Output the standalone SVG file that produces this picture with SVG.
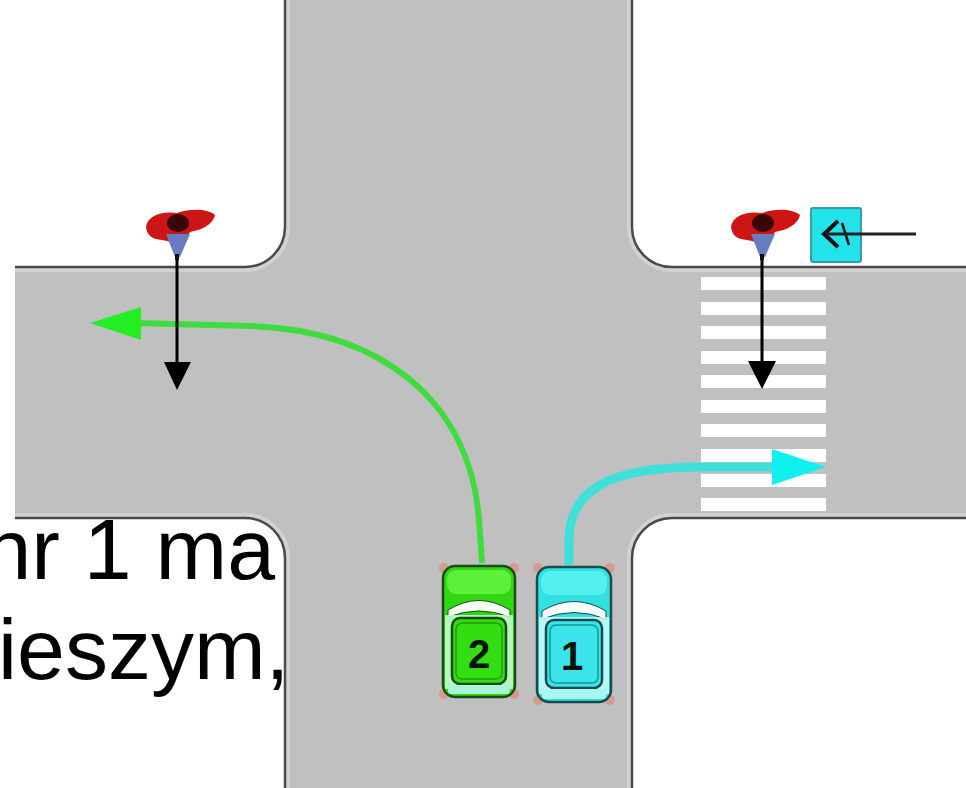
<svg xmlns="http://www.w3.org/2000/svg" width="966" height="788" viewBox="0 0 966 788">
  <defs>
    <style>
      .txt { font-family: "Liberation Sans", Arial, sans-serif; font-size: 86px; fill: #000; }
      .edge { fill: none; stroke: #4a4a4a; stroke-width: 2.5; }
      .edgeglow { fill: none; stroke: #d2d2d2; stroke-width: 10; }
      .stripe { fill: #ffffff; }
      .walk { stroke: #000; stroke-width: 3; fill: none; }
      .num { font-family: "Liberation Sans", Arial, sans-serif; font-weight: bold; font-size: 40px; fill: #061206; text-anchor: middle; }
      .lamp { fill: #ff5533; opacity: 0.35; }
    </style>
    <clipPath id="roadClip">
      <path d="M285,0 L632,0 L632,227 A40,40 0 0 0 672,267 L966,267 L966,518 L672,518 A40,40 0 0 0 632,558 L632,788 L285,788 L285,558 A40,40 0 0 0 245,518 L15,518 L15,267 L245,267 A40,40 0 0 0 285,227 Z"/>
    </clipPath>
  </defs>

  <rect x="0" y="0" width="966" height="788" fill="#ffffff"/>

  <!-- text partly hidden under the road -->
  <g id="caption">
    <text class="txt" x="275" y="579" text-anchor="end">nr 1 ma</text>
    <text class="txt" x="-2" y="679">ieszym,</text>
  </g>

  <!-- road -->
  <g id="road">
    <path d="M285,0 L632,0 L632,227 A40,40 0 0 0 672,267 L966,267 L966,518 L672,518 A40,40 0 0 0 632,558 L632,788 L285,788 L285,558 A40,40 0 0 0 245,518 L15,518 L15,267 L245,267 A40,40 0 0 0 285,227 Z" fill="#c0c0c0"/>
    <g clip-path="url(#roadClip)">
      <path class="edgeglow" d="M285,0 L285,227 A40,40 0 0 1 245,267 L15,267"/>
      <path class="edgeglow" d="M632,0 L632,227 A40,40 0 0 0 672,267 L966,267"/>
      <path class="edgeglow" d="M15,518 L245,518 A40,40 0 0 1 285,558 L285,788"/>
      <path class="edgeglow" d="M966,518 L672,518 A40,40 0 0 0 632,558 L632,788"/>
    </g>
    <path class="edge" d="M285,0 L285,227 A40,40 0 0 1 245,267 L15,267"/>
    <path class="edge" d="M632,0 L632,227 A40,40 0 0 0 672,267 L966,267"/>
    <path class="edge" d="M15,518 L245,518 A40,40 0 0 1 285,558 L285,788"/>
    <path class="edge" d="M966,518 L672,518 A40,40 0 0 0 632,558 L632,788"/>
  </g>

  <!-- zebra crossing -->
  <g id="crossing">
    <rect class="stripe" x="701" y="277" width="125" height="13"/>
    <rect class="stripe" x="701" y="302" width="125" height="13"/>
    <rect class="stripe" x="701" y="326" width="125" height="13"/>
    <rect class="stripe" x="701" y="351" width="125" height="13"/>
    <rect class="stripe" x="701" y="375" width="125" height="13"/>
    <rect class="stripe" x="701" y="400" width="125" height="13"/>
    <rect class="stripe" x="701" y="424" width="125" height="13"/>
    <rect class="stripe" x="701" y="449" width="125" height="13"/>
    <rect class="stripe" x="701" y="474" width="125" height="13"/>
    <rect class="stripe" x="701" y="498" width="125" height="13"/>
  </g>

  <!-- connectors / paths -->
  <g id="connectors">
    <path d="M482,563 L479,520 C470,400 380,330 250,326 L135,323" fill="none" stroke="#3fdc3f" stroke-width="6"/>
    <polygon points="90,323 141,307 141,340" fill="#22ee22"/>
    <path d="M569,565 L569,540 C569,490 610,467 700,467 L776,467" fill="none" stroke="#40e0d8" stroke-width="9"/>
    <polygon points="826,467 772,449 772,485" fill="#10f0f0"/>
    <line class="walk" x1="177" y1="258" x2="177" y2="372"/>
    <polygon points="164,362 191,362 177,390" fill="#000"/>
    <line class="walk" x1="762" y1="258" x2="762" y2="372"/>
    <polygon points="748,361 776,361 762,389" fill="#000"/>
  </g>

  <!-- pedestrian left -->
  <g id="pedestrian-left">
    <path d="M146,227 C148,214 165,211 177,213 C190,209 206,208 215,215 C213,225 201,230 190,232 L183,242 L170,242 C160,238 148,242 146,227 Z" fill="#cc1515"/>
    <ellipse cx="178" cy="223" rx="11" ry="9" fill="#3a0505"/>
    <path d="M166,234 L190,234 L180,257 L175,257 Z" fill="#6a7cc0"/>
    <rect x="175" y="254" width="4" height="6" fill="#111"/>
  </g>

  <!-- pedestrian right -->
  <g id="pedestrian-right">
    <path d="M731,227 C733,214 750,211 762,213 C775,209 791,208 800,215 C798,225 786,230 775,232 L768,242 L755,242 C745,238 733,242 731,227 Z" fill="#cc1515"/>
    <ellipse cx="763" cy="223" rx="11" ry="9" fill="#3a0505"/>
    <path d="M751,234 L775,234 L765,257 L760,257 Z" fill="#6a7cc0"/>
    <rect x="760" y="254" width="4" height="6" fill="#111"/>
  </g>

  <!-- sign -->
  <g id="sign">
    <rect x="811" y="208" width="50" height="54" rx="2" fill="#22e2ea" stroke="#3a9aa0" stroke-width="2"/>
    <path d="M838,221 L824,234 L838,247" fill="none" stroke="#111" stroke-width="4"/>
    <path d="M842,223 L849,245" fill="none" stroke="#111" stroke-width="2.5"/>
    <line x1="826" y1="234" x2="916" y2="234" stroke="#222" stroke-width="3"/>
  </g>

  <!-- car 2 (green) -->
  <g id="car-2" transform="translate(441,565)">
    <circle class="lamp" cx="3" cy="3" r="5"/>
    <circle class="lamp" cx="73" cy="3" r="5"/>
    <circle class="lamp" cx="3" cy="129" r="5"/>
    <circle class="lamp" cx="73" cy="129" r="5"/>
    <rect x="2" y="1" width="72" height="131" rx="12" fill="#2fd810" stroke="#1b4a1b" stroke-width="2.5"/>
    <rect x="6" y="5" width="64" height="24" rx="9" fill="#5cf03a"/>
    <path d="M7,45 Q38,26 69,45 L69,52 Q38,40 7,52 Z" fill="#f2fff2" stroke="#1b4a1b" stroke-width="1"/>
    <rect x="4" y="50" width="68" height="74" fill="#d8ffe8" opacity="0.8"/>
    <rect x="11" y="53" width="54" height="66" rx="8" fill="#33dd11" stroke="#1b4a1b" stroke-width="2.5"/>
    <rect x="15" y="58" width="46" height="56" rx="6" fill="none" stroke="#229911" stroke-width="1.5"/>
    <rect x="7" y="120" width="62" height="9" rx="3" fill="#aaf5d5"/>
    <text class="num" x="38" y="103">2</text>
  </g>

  <!-- car 1 (cyan) -->
  <g id="car-1" transform="translate(535,566)">
    <circle class="lamp" cx="3" cy="2" r="5"/>
    <circle class="lamp" cx="75" cy="2" r="5"/>
    <circle class="lamp" cx="3" cy="134" r="5"/>
    <circle class="lamp" cx="75" cy="134" r="5"/>
    <rect x="2" y="1" width="74" height="135" rx="12" fill="#33e0e0" stroke="#1b4a4a" stroke-width="2.5"/>
    <rect x="6" y="5" width="66" height="24" rx="9" fill="#55f0f0"/>
    <path d="M7,45 Q39,26 71,45 L71,53 Q39,40 7,53 Z" fill="#f4ffff" stroke="#1b4a4a" stroke-width="1"/>
    <rect x="4" y="51" width="70" height="77" fill="#d8ffff" opacity="0.8"/>
    <rect x="11" y="54" width="56" height="68" rx="8" fill="#3ae4ea" stroke="#1b4a4a" stroke-width="2.5"/>
    <rect x="15" y="59" width="48" height="58" rx="6" fill="none" stroke="#119999" stroke-width="1.5"/>
    <rect x="7" y="123" width="64" height="10" rx="3" fill="#aaf5f0"/>
    <text class="num" x="37" y="104">1</text>
  </g>
</svg>
